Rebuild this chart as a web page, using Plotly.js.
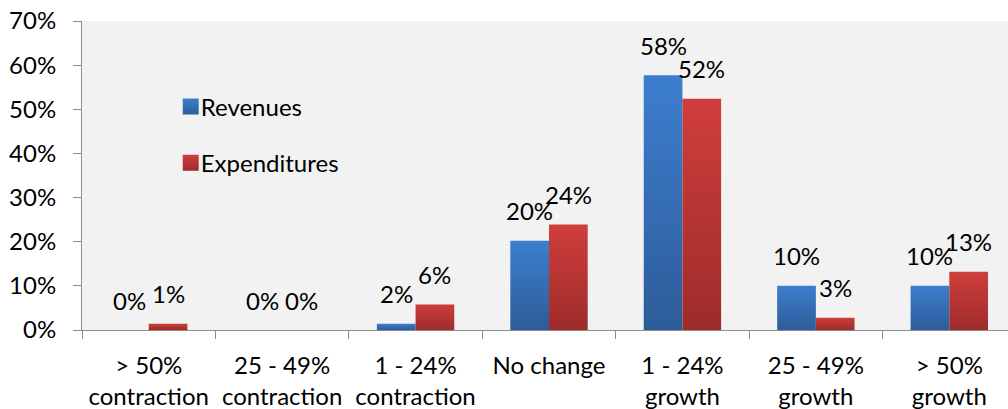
<!DOCTYPE html>
<html>
<head>
<meta charset="utf-8">
<script src="https://cdn.plot.ly/plotly-3.0.1.min.js"></script>
<style>
html, body { margin: 0; padding: 0; overflow: hidden; background: #ffffff; }
#chart { width: 1016px; height: 409px; }
</style>
</head>
<body>
<div id="chart"></div>
<script>
// ---- data ----
const categories = [
  "> 50%<br>contraction",
  "25 - 49%<br>contraction",
  "1 - 24%<br>contraction",
  "No change",
  "1 - 24%<br>growth",
  "25 - 49%<br>growth",
  "> 50%<br>growth"
];
const revenues = [0, 0, 1.4, 20.2, 57.7, 10.0, 10.0];
const expenditures = [1.4, 0, 5.8, 23.9, 52.4, 2.8, 13.2];
const revenueLabels = ["0%", "0%", "2%", "20%", "58%", "10%", "10%"];
const expenditureLabels = ["1%", "0%", "6%", "24%", "52%", "3%", "13%"];
const yTickVals = [0, 10, 20, 30, 40, 50, 60, 70];
const yTickText = ["0%", "10%", "20%", "30%", "40%", "50%", "60%", "70%"];

// ---- layout constants ----
const W = 1016, H = 409;
const M = { l: 82, r: 0, t: 21, b: 79 };
const bargap = 0.42;
const plotW = W - M.l - M.r;
const slot = plotW / categories.length;
const barW = slot * (1 - bargap) / 2;
const FONT = "Lato, 'Open Sans', sans-serif";
const FS = 24;

const traces = [
  { type: "bar", name: "Revenues", x: categories, y: revenues,
    marker: { color: "#3a73c0" }, legendgroup: "a", hoverinfo: "none" },
  { type: "bar", name: "Expenditures", x: categories, y: expenditures,
    marker: { color: "#c03937" }, legendgroup: "b", hoverinfo: "none" }
];

const annotations = [];
categories.forEach((c, i) => {
  annotations.push({ x: c, y: revenues[i], text: revenueLabels[i], showarrow: false,
    xshift: -barW / 2, yshift: 30, font: { family: FONT, size: FS, color: "#000" } });
  annotations.push({ x: c, y: expenditures[i], text: expenditureLabels[i], showarrow: false,
    xshift: barW / 2, yshift: 30, font: { family: FONT, size: FS, color: "#000" } });
});

const layout = {
  width: W, height: H,
  margin: M,
  paper_bgcolor: "#ffffff",
  plot_bgcolor: "#f2f2f2",
  font: { family: FONT, size: FS, color: "#000" },
  barmode: "group",
  bargap: bargap,
  bargroupgap: 0,
  showlegend: true,
  legend: {
    x: 0.095, y: 0.795, xanchor: "left", yanchor: "top",
    bgcolor: "rgba(0,0,0,0)",
    traceorder: "grouped", tracegroupgap: 22,
    font: { family: FONT, size: FS, color: "#000" },
    itemclick: false, itemdoubleclick: false
  },
  xaxis: {
    type: "category",
    showline: true, linecolor: "#8c8c8c", linewidth: 1,
    ticks: "outside", tickson: "boundaries", ticklen: 8, tickcolor: "#8c8c8c",
    showgrid: false, zeroline: false,
    tickfont: { family: FONT, size: FS, color: "#000" },
    ticklabelstandoff: 14,
    fixedrange: true
  },
  yaxis: {
    range: [0, 70], tickvals: yTickVals, ticktext: yTickText,
    showline: true, linecolor: "#8c8c8c", linewidth: 1,
    ticks: "outside", ticklen: 8, tickcolor: "#8c8c8c",
    showgrid: false, zeroline: false,
    tickfont: { family: FONT, size: FS, color: "#000" },
    ticklabelstandoff: 12,
    fixedrange: true
  },
  annotations: annotations
};

const gd = document.getElementById("chart");

function applyGradients() {
  const svg = gd.querySelector("svg.main-svg");
  if (!svg) return;
  let defs = svg.querySelector("defs");
  if (!defs) { defs = document.createElementNS("http://www.w3.org/2000/svg", "defs"); svg.insertBefore(defs, svg.firstChild); }
  const grads = [
    { id: "gradRev", top: "#3d7ecf", bottom: "#2d5c99" },
    { id: "gradExp", top: "#cf3e3c", bottom: "#9d2c2a" }
  ];
  grads.forEach(g => {
    if (svg.querySelector("#" + g.id)) return;
    const lg = document.createElementNS("http://www.w3.org/2000/svg", "linearGradient");
    lg.setAttribute("id", g.id);
    lg.setAttribute("x1", "0"); lg.setAttribute("y1", "0");
    lg.setAttribute("x2", "0"); lg.setAttribute("y2", "1");
    [[0, g.top], [1, g.bottom]].forEach(([o, col]) => {
      const s = document.createElementNS("http://www.w3.org/2000/svg", "stop");
      s.setAttribute("offset", String(o));
      s.setAttribute("stop-color", col);
      lg.appendChild(s);
    });
    defs.appendChild(lg);
  });
  gd.querySelectorAll("g.trace.bars").forEach((t, i) => {
    const id = i === 0 ? "gradRev" : "gradExp";
    t.querySelectorAll("path").forEach(p => { p.style.fill = "url(#" + id + ")"; });
  });
  gd.querySelectorAll(".legend .traces").forEach((t, i) => {
    const id = i === 0 ? "gradRev" : "gradExp";
    t.querySelectorAll(".legendpoints path").forEach(p => {
      p.style.fill = "url(#" + id + ")";
      p.setAttribute("transform", "translate(20,0) scale(1.33)");
    });
    const txt = t.querySelector("text.legendtext");
    if (txt && !txt.dataset.shifted) {
      txt.setAttribute("x", String(parseFloat(txt.getAttribute("x")) - 10));
      txt.dataset.shifted = "1";
    }
  });
}

Plotly.newPlot(gd, traces, layout, { displayModeBar: false, staticPlot: true }).then(() => {
  applyGradients();
  gd.on && gd.on("plotly_afterplot", applyGradients);
});
</script>
</body>
</html>
